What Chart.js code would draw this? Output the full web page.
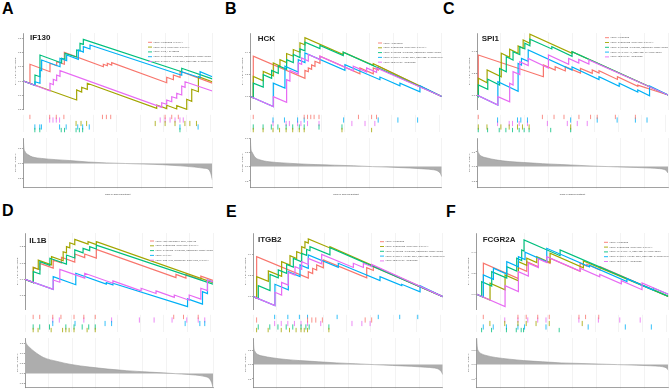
<!DOCTYPE html>
<html>
<head>
<meta charset="utf-8">
<script src="https://cdn.jsdelivr.net/npm/chart.js@4.4.0/dist/chart.umd.min.js"></script>
<style>
html, body { margin: 0; padding: 0; background: #fff; }
body { width: 669px; height: 391px; position: relative; overflow: hidden; font-family: "Liberation Sans", Arial, sans-serif; }
canvas { position: absolute; }
.tag { position: absolute; font: bold 16px "Liberation Sans", Arial, sans-serif; color: #000; line-height: 16px; }
</style>
</head>
<body>
<div class="tag" style="left:2px;top:1px">A</div>
<div class="tag" style="left:225px;top:1px">B</div>
<div class="tag" style="left:443px;top:1px">C</div>
<div class="tag" style="left:2px;top:203px">D</div>
<div class="tag" style="left:226px;top:204px">E</div>
<div class="tag" style="left:446px;top:204px">F</div>
<script>
// ranked list length and colours (red, olive, green, blue, pink)
var N = 20400;
var colors = ['#F8766D', '#A3A500', '#00BF7D', '#00B0F6', '#E76BF3'];

// hits: [rank, ES before jump, ES after jump]
// --- A: IF130
var A_red = [[720,-0.016,0.117],[2880,0.065,0.124],[3600,0.107,0.135],[4430,0.117,0.2],[8640,0.1,0.117],[9070,0.107,0.124],[9540,0.112,0.128],[15480,-0.012,0.026],[16200,0.009,0.042],[16920,0.026,0.068]];
var A_olive = [[5760,-0.133,-0.063],[6300,-0.077,-0.044],[6910,-0.058,-0.016],[14400,-0.191,-0.168],[15480,-0.193,-0.17],[16560,-0.196,-0.172],[17640,-0.198,-0.128],[18180,-0.142,-0.058],[18900,-0.075,0.03]];
var A_green = [[1260,-0.03,0.042],[1800,0.03,0.182],[4140,0.126,0.159],[4500,0.152,0.193],[5760,0.168,0.217],[6120,0.21,0.263],[6480,0.256,0.291],[17100,0.065,0.089]];
var A_blue = [[1260,-0.03,-0.005],[1800,-0.016,0.077],[1980,0.072,0.147],[3960,0.1,0.159],[4680,0.142,0.182],[5940,0.152,0.217],[6480,0.203,0.24],[7200,0.224,0.252],[17100,0.04,0.065],[19080,0.023,0.065]];
var A_pink = [[2880,-0.07,-0.016],[3240,-0.026,0.012],[3600,0.002,0.042],[3960,0.033,0.072],[14940,-0.184,-0.152],[15480,-0.163,-0.133],[16020,-0.145,-0.11],[16560,-0.121,-0.086],[17100,-0.098,-0.035],[17460,-0.044,-0.005]];
var A_end = [-0.015, -0.005, 0.015, 0.03, -0.07];
var A_rows = [1, 3, 5, 4, 2];
var A_names = ['KEGG_LYSOSOME_PATHWAY', 'KEGG_PPAR_SIGNALING_PATHWAY', 'KEGG_TYPE_I_DIABETES', 'KEGG_CYTOKINE_CYTOKINE_RECEPTOR_INTERACTION', 'KEGG_NATURAL_KILLER_CELL_MEDIATED_CYTOTOXICITY'];
var A_metric = [0.86, 0.55, 0.4, 0.3, 0.22, 0.17, 0.13, 0.1, 0.05, 0.02, 0.0, -0.02, -0.04, -0.08, -0.12, -0.16, -0.2, -0.35, -0.55];

// --- B: HCK
var B_red = [[320,-0.012,0.364],[5820,0.164,0.236],[6180,0.224,0.258],[6530,0.245,0.285],[6890,0.273,0.318],[7420,0.3,0.364],[11680,0.206,0.258],[13100,0.206,0.258],[13630,0.239,0.273]];
var B_olive = [[320,-0.012,0.182],[1380,0.142,0.227],[2450,0.188,0.303],[3160,0.276,0.333],[3870,0.306,0.388],[4580,0.364,0.424],[5290,0.4,0.485],[5820,0.467,0.53],[9900,0.379,0.4],[13100,0.282,0.297]];
var B_green = [[320,-0.012,0.121],[1380,0.085,0.197],[2270,0.164,0.236],[2980,0.209,0.279],[3870,0.245,0.333],[4580,0.306,0.379],[5290,0.352,0.43],[5820,0.412,0.491],[7420,0.433,0.461],[9900,0.37,0.4]];
var B_blue = [[2450,-0.091,0.121],[3690,0.076,0.273],[5110,0.221,0.333],[5820,0.306,0.394],[10080,0.236,0.288],[13810,0.152,0.176],[15940,0.097,0.121],[18070,0.042,0.097]];
var B_pink = [[2450,-0.091,0],[3870,-0.052,0.152],[4220,0.139,0.236],[5110,0.203,0.303],[5470,0.291,0.348],[6180,0.321,0.379],[7420,0.333,0.364],[10970,0.233,0.273],[12390,0.221,0.258],[13450,0.218,0.258]];
var B_end = [0, 0, 0, 0, 0];
var B_rows = [1, 5, 4, 2, 3];
var B_names = ['KEGG_APOPTOSIS', 'KEGG_CHEMOKINE_SIGNALING_PATHWAY', 'KEGG_CYTOKINE_CYTOKINE_RECEPTOR_INTERACTION', 'KEGG_NATURAL_KILLER_CELL_MEDIATED_CYTOTOXICITY', 'KEGG_LEISHMANIA_INFECTION'];
var B_metric = [1.0, 0.65, 0.5, 0.33, 0.24, 0.17, 0.13, 0.1, 0.07, 0.05, 0.03, 0.0, -0.02, -0.05, -0.08, -0.11, -0.16, -0.24, -0.35];

// --- C: SPI1
var C_red = [[140,-0.006,0.369],[7090,0.169,0.277],[8350,0.231,0.262],[9430,0.222,0.262],[11050,0.203,0.246],[12310,0.2,0.231],[13030,0.203,0.225],[15000,0.144,0.17],[17170,0.081,0.092]];
var C_olive = [[140,-0.009,0.154],[1080,0.114,0.231],[2590,0.169,0.385],[3490,0.348,0.422],[4390,0.385,0.452],[4930,0.431,0.508],[5650,0.477,0.56],[10150,0.385,0.4]];
var C_green = [[140,-0.015,0.092],[1150,0.052,0.145],[2410,0.092,0.246],[3130,0.215,0.354],[3850,0.323,0.4],[4570,0.372,0.446],[5110,0.425,0.477],[5650,0.455,0.514],[7990,0.425,0.446],[10150,0.357,0.4]];
var C_blue = [[2230,-0.092,0.123],[4390,0.035,0.292],[4750,0.277,0.338],[5470,0.31,0.415],[10150,0.23,0.26],[13030,0.142,0.169],[15190,0.08,0.108],[17170,0.027,0.046],[18430,-0.006,0.083]];
var C_pink = [[2230,-0.092,-0.015],[3490,-0.062,0.108],[3850,0.092,0.215],[4570,0.188,0.308],[5470,0.271,0.338],[7630,0.249,0.369],[9790,0.283,0.338],[10870,0.295,0.329],[11950,0.286,0.323]];
var C_end = [0, 0, 0, 0, 0];
var C_rows = [1, 4, 5, 2, 3];
var C_names = ['KEGG_LYSOSOME', 'KEGG_CHEMOKINE_SIGNALING_PATHWAY', 'KEGG_CYTOKINE_CYTOKINE_RECEPTOR_INTERACTION', 'KEGG_FC_GAMMA_R_MEDIATED_PHAGOCYTOSIS', 'KEGG_LEISHMANIA_INFECTION'];
var C_metric = [0.95, 0.6, 0.45, 0.35, 0.3, 0.23, 0.17, 0.14, 0.1, 0.07, 0.04, 0.01, -0.01, -0.03, -0.05, -0.07, -0.1, -0.15, -0.22];

// --- D: IL1B
var D_red = [[900,-0.02,0.073],[1620,0.059,0.098],[3060,0.069,0.118],[3960,0.1,0.135],[5400,0.106,0.155],[6480,0.133,0.155],[7740,0.13,0.184],[16380,0.011,0.03],[17460,0.008,0.03],[19080,-0.002,0.02]];
var D_olive = [[900,-0.02,0.073],[1440,0.062,0.118],[2880,0.089,0.139],[4140,0.114,0.169],[4500,0.162,0.2],[4860,0.193,0.224],[5400,0.213,0.245],[6840,0.216,0.231],[7740,0.213,0.231]];
var D_green = [[900,-0.02,0.047],[1620,0.033,0.108],[2700,0.086,0.129],[4500,0.093,0.149],[5400,0.131,0.18],[6300,0.162,0.19],[7020,0.176,0.2],[7740,0.186,0.21]];
var D_blue = [[3060,-0.061,0.016],[5510,-0.033,0.037],[8820,-0.029,-0.02],[9540,-0.034,-0.024],[17640,-0.167,-0.12],[19260,-0.152,-0.076],[19800,-0.087,-0.004]];
var D_pink = [[3060,-0.061,-0.004],[3780,-0.018,0.061],[6480,0.007,0.037],[9540,-0.024,-0.01],[12600,-0.071,-0.055],[14220,-0.087,-0.071],[16200,-0.111,-0.096],[17820,-0.128,-0.096],[19080,-0.121,-0.055],[19800,-0.069,-0.004]];
var D_end = [-0.006, -0.02, -0.03, -0.016, -0.016];
var D_rows = [1, 5, 4, 3, 2];
var D_names = ['KEGG_HEMATOPOIETIC_CELL_LINEAGE', 'KEGG_CHEMOKINE_SIGNALING_PATHWAY', 'KEGG_CYTOKINE_CYTOKINE_RECEPTOR_INTERACTION', 'KEGG_MALARIA', 'KEGG_NOD_LIKE_RECEPTOR_SIGNALING_PATHWAY'];
var D_metric = [1.8, 1.6, 1.45, 1.3, 1.1, 0.8, 0.6, 0.45, 0.32, 0.22, 0.14, 0.08, 0.03, -0.03, -0.08, -0.15, -0.25, -0.45, -0.7];

// --- E: ITGB2
var E_red = [[360,-0.013,0.375],[5920,0.175,0.234],[6390,0.217,0.266],[6820,0.25,0.297],[7540,0.271,0.344],[12210,0.176,0.272],[12920,0.246,0.281]];
var E_olive = [[360,-0.013,0.188],[1620,0.143,0.241],[3050,0.19,0.328],[3950,0.296,0.384],[4670,0.358,0.422],[5210,0.403,0.469],[5560,0.456,0.516],[5920,0.503,0.541],[8250,0.457,0.469]];
var E_green = [[540,-0.019,0.103],[1800,0.058,0.209],[2690,0.177,0.25],[3590,0.218,0.303],[4310,0.277,0.359],[5210,0.327,0.406],[5740,0.387,0.444],[6100,0.431,0.469],[8250,0.392,0.459]];
var E_blue = [[2330,-0.084,0.116],[3770,0.064,0.234],[5030,0.189,0.297],[5920,0.265,0.391],[9150,0.275,0.313],[13640,0.151,0.188],[15980,0.104,0.116],[17950,0.045,0.103]];
var E_pink = [[2330,-0.084,0.041],[3050,0.015,0.134],[3770,0.108,0.228],[4490,0.202,0.281],[5210,0.255,0.328],[5920,0.302,0.359],[7360,0.307,0.397],[10770,0.274,0.313],[11850,0.274,0.313],[12750,0.281,0.303]];
var E_end = [0, 0, 0, 0, 0];
var E_rows = [2, 5, 4, 1, 3];
var E_names = ['KEGG_LYSOSOME', 'KEGG_CHEMOKINE_SIGNALING_PATHWAY', 'KEGG_CYTOKINE_CYTOKINE_RECEPTOR_INTERACTION', 'KEGG_NATURAL_KILLER_CELL_MEDIATED_CYTOTOXICITY', 'KEGG_LEISHMANIA_INFECTION'];
var E_metric = [0.93, 0.6, 0.45, 0.35, 0.3, 0.24, 0.18, 0.14, 0.1, 0.06, 0.03, 0.0, -0.03, -0.06, -0.09, -0.12, -0.17, -0.25, -0.35];

// --- F: FCGR2A
var F_red = [[710,-0.028,0.298],[4440,0.151,0.256],[5330,0.221,0.314],[6570,0.265,0.346],[7810,0.297,0.346],[11010,0.22,0.298],[11720,0.27,0.288],[13140,0.232,0.266]];
var F_olive = [[1420,-0.056,0.106],[3020,0.043,0.186],[4440,0.13,0.314],[5330,0.279,0.346],[6390,0.304,0.362],[7810,0.306,0.394],[11360,0.254,0.32]];
var F_green = [[530,-0.021,0.122],[1600,0.08,0.218],[3200,0.155,0.266],[4260,0.224,0.346],[4790,0.325,0.426],[5040,0.416,0.522],[8880,0.371,0.426]];
var F_blue = [[710,-0.028,0.186],[1780,0.144,0.25],[3200,0.194,0.314],[4440,0.265,0.362],[5150,0.334,0.404],[7460,0.313,0.442],[12000,0.264,0.28],[16000,0.123,0.15],[18800,0.04,0.06]];
var F_pink = [[3020,-0.119,0.083],[4440,0.027,0.218],[5500,0.176,0.298],[6570,0.256,0.34],[7460,0.305,0.362],[11000,0.223,0.25],[13100,0.167,0.19],[15400,0.1,0.13],[17600,0.044,0.11]];
var F_end = [-0.02, -0.02, -0.02, 0, 0];
var F_rows = [1, 3, 5, 4, 2];
var F_names = ['KEGG_LYSOSOME', 'KEGG_CHEMOKINE_SIGNALING_PATHWAY', 'KEGG_FC_GAMMA_R_MEDIATED_PHAGOCYTOSIS', 'KEGG_NATURAL_KILLER_CELL_MEDIATED_CYTOTOXICITY', 'KEGG_LEISHMANIA_INFECTION'];
var F_metric = [0.93, 0.62, 0.47, 0.38, 0.32, 0.25, 0.19, 0.14, 0.1, 0.06, 0.04, 0.02, 0.0, -0.02, -0.04, -0.06, -0.09, -0.13, -0.2];

// ranks where the ranked list metric was read
var metricRanks = [0, 60, 200, 500, 1000, 2000, 3500, 5000, 7000, 9000, 11000, 13000, 15000, 17000, 18500, 19500, 20000, 20250, 20400];

var panels = [
  { gene: 'IF130', sets: [A_red, A_olive, A_green, A_blue, A_pink], ends: A_end, rows: A_rows, names: A_names, metric: A_metric,
    left: 23.3, width: 189, top: 33, es: [-0.203, 0.336, 0.1], met: [-0.81, 0.86], gx: 6.7, gy: 4.7, lx: 124.7, ly: 9.3 },
  { gene: 'HCK', sets: [B_red, B_olive, B_green, B_blue, B_pink], ends: B_end, rows: B_rows, names: B_names, metric: B_metric,
    left: 250.3, width: 191.5, top: 33, es: [-0.121, 0.573, 0.2], met: [-0.73, 1.0], gx: 7.4, gy: 5.3, lx: 127.7, ly: 10 },
  { gene: 'SPI1', sets: [C_red, C_olive, C_green, C_blue, C_pink], ends: C_end, rows: C_rows, names: C_names, metric: C_metric,
    left: 477, width: 191, top: 33, es: [-0.138, 0.572, 0.2], met: [-0.714, 0.976], gx: 4.7, gy: 5.8, lx: 128, ly: 4.7 },
  { gene: 'IL1B', sets: [D_red, D_olive, D_green, D_blue, D_pink], ends: D_end, rows: D_rows, names: D_names, metric: D_metric,
    left: 25, width: 188, top: 233, es: [-0.188, 0.284, 0.1], met: [-0.7, 1.77], gx: 4.3, gy: 7.3, lx: 125, ly: 8 },
  { gene: 'ITGB2', sets: [E_red, E_olive, E_green, E_blue, E_pink], ends: E_end, rows: E_rows, names: E_names, metric: E_metric,
    left: 253.3, width: 189.5, top: 233, es: [-0.125, 0.597, 0.2], met: [-0.8, 0.93], gx: 4.7, gy: 6.5, lx: 126.7, ly: 8.7 },
  { gene: 'FCGR2A', sets: [F_red, F_olive, F_green, F_blue, F_pink], ends: F_end, rows: F_rows, names: F_names, metric: F_metric,
    left: 476.7, width: 191.6, top: 233, es: [-0.151, 0.589, 0.2], met: [-0.8, 0.93], gx: 6, gy: 6.5, lx: 127.3, ly: 9.3 }
];

Chart.defaults.font.family = '"Liberation Sans", Arial, sans-serif';
var GRID = '#ebebeb';
var AXW = 9;
var small = { size: 2.3 };

// gene name and legend drawn inside the ES panel
var decor = {
  id: 'decor',
  afterDatasetsDraw: function (chart, args, opts) {
    if (!opts.gene) return;
    var ctx = chart.ctx, a = chart.chartArea;
    ctx.save();
    ctx.font = 'bold 8px "Liberation Sans", Arial, sans-serif';
    ctx.fillStyle = '#222';
    ctx.textBaseline = 'middle';
    ctx.fillText(opts.gene, a.left + opts.gx, a.top + opts.gy);
    ctx.font = '2.1px "Liberation Sans", Arial, sans-serif';
    chart.data.datasets.forEach(function (ds, i) {
      var x = a.left + opts.lx, y = a.top + opts.ly + i * 4.8;
      ctx.strokeStyle = ds.borderColor;
      ctx.lineWidth = 0.9;
      ctx.beginPath(); ctx.moveTo(x, y); ctx.lineTo(x + 4, y); ctx.stroke();
      ctx.fillStyle = '#555';
      ctx.fillText(ds.label, x + 5.5, y);
    });
    ctx.restore();
  }
};
Chart.register(decor);

function canvasAt(x, y, w, h) {
  var c = document.createElement('canvas');
  c.width = w; c.height = h;
  c.style.left = x + 'px'; c.style.top = y + 'px';
  c.style.width = w + 'px'; c.style.height = h + 'px';
  document.body.appendChild(c);
  return c.getContext('2d');
}

function curve(hits, end) {
  var pts = [{ x: 0, y: 0 }];
  hits.forEach(function (h) { pts.push({ x: h[0], y: h[1] }, { x: h[0], y: h[2] }); });
  pts.push({ x: N, y: end });
  return pts;
}

function xScale(extra) {
  var s = {
    type: 'linear', min: 0, max: N,
    ticks: { display: false, stepSize: 2500, includeBounds: false },
    grid: { color: GRID, lineWidth: 0.6, drawTicks: false },
    border: { display: false },
    afterFit: function (sc) { sc.height = 0; sc.paddingLeft = 0; sc.paddingRight = 0; }
  };
  return Object.assign(s, extra || {});
}

function yAxis(min, max, step, title, axw) {
  return {
    min: min, max: max,
    ticks: { stepSize: step, includeBounds: false, font: small, color: '#4d4d4d', padding: 0.8,
             callback: function (v) { return v.toFixed(1); } },
    grid: { display: true, drawOnChartArea: false, tickLength: 1.2, color: '#444', lineWidth: 0.5 },
    border: { display: true, color: '#444', width: 0.5 },
    title: { display: true, text: title, font: small, color: '#444', padding: 0 },
    afterFit: function (sc) { sc.width = axw; sc.paddingTop = 0; sc.paddingBottom = 0; }
  };
}

panels.forEach(function (p) {
  var cx = Math.floor(p.left - AXW);
  var axw = p.left - cx;
  var cw = Math.ceil(p.left + p.width - cx) + 2;
  var padR = cw - axw - p.width;
  var base = { responsive: false, animation: false, devicePixelRatio: 1, events: [] };

  // running enrichment score
  new Chart(canvasAt(cx, p.top - 3, cw, 80), {
    type: 'line',
    data: {
      datasets: p.sets.map(function (s, i) {
        return { label: p.names[i], data: curve(s, p.ends[i]), borderColor: colors[i], borderWidth: 1.2,
                 pointRadius: 0, tension: 0, fill: false, order: 4 - i };
      })
    },
    options: Object.assign({}, base, {
      layout: { padding: { top: 3, right: padR, left: 0, bottom: 0 } },
      plugins: { legend: { display: false }, tooltip: { enabled: false },
                 decor: { gene: p.gene, gx: p.gx, gy: p.gy, lx: p.lx, ly: p.ly } },
      scales: { x: xScale(), y: yAxis(p.es[0], p.es[1], p.es[2], 'Running Enrichment Score', axw) }
    })
  });

  // hit positions, one row per gene set
  new Chart(canvasAt(cx, p.top + 77, cw, 27), {
    type: 'scatter',
    data: {
      datasets: p.sets.map(function (s, i) {
        return { data: s.map(function (h) { return { x: h[0], y: p.rows[i] - 0.5 }; }),
                 pointStyle: 'line', pointRotation: 90, pointRadius: 2.6,
                 pointBorderColor: colors[i], pointBorderWidth: 0.8, pointBackgroundColor: colors[i] };
      })
    },
    options: Object.assign({}, base, {
      layout: { padding: { top: 0, right: padR, left: axw, bottom: 0 } },
      plugins: { legend: { display: false }, tooltip: { enabled: false } },
      scales: { x: xScale(), y: { display: false, min: 0, max: 5, reverse: true } }
    })
  });

  // ranked list metric
  new Chart(canvasAt(cx, p.top + 103, cw, 60), {
    type: 'line',
    data: {
      datasets: [{
        data: metricRanks.map(function (r, k) { return { x: r, y: p.metric[k] }; }),
        fill: 'origin', backgroundColor: '#adadad', borderColor: '#999', borderWidth: 0.6,
        pointRadius: 0, cubicInterpolationMode: 'monotone'
      }]
    },
    options: Object.assign({}, base, {
      layout: { padding: { top: 2, right: padR, left: 0, bottom: 0 } },
      plugins: { legend: { display: false }, tooltip: { enabled: false } },
      scales: {
        x: xScale({
          ticks: { display: true, stepSize: 2500, includeBounds: false, font: small, color: '#4d4d4d', padding: 0.5,
                   maxRotation: 0, autoSkip: false,
                   callback: function (v) { return (v > 0 && v % 5000 === 0) ? String(v) : ''; } },
          grid: { color: GRID, lineWidth: 0.6, drawTicks: true, tickLength: 1.2 },
          border: { display: true, color: '#444', width: 0.5 },
          title: { display: true, text: 'Rank in Ordered Dataset', font: small, color: '#444', padding: 0 },
          afterFit: function (sc) { sc.height = 8.5; sc.paddingLeft = 0; sc.paddingRight = 0; }
        }),
        y: yAxis(p.met[0], p.met[1], 0.5, 'Ranked list metric', axw)
      }
    })
  });
});
</script>
</body>
</html>
